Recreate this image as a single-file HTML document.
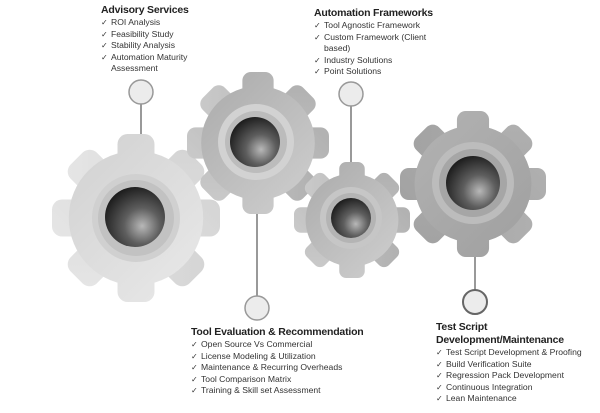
<!DOCTYPE html>
<html><head><style>
body{margin:0;width:600px;height:413px;background:#fff;overflow:hidden;position:relative;font-family:"Liberation Sans",sans-serif;}
.t{position:absolute;color:#222;}
.h{font-weight:bold;font-size:10.5px;line-height:13px;letter-spacing:-0.2px;}
ul{list-style:none;margin:0;padding:0;font-size:8.6px;line-height:11.5px;color:#333;}
li{position:relative;padding-left:10px;}
li:before{content:"✓";position:absolute;left:0;font-size:8px;}
</style></head><body>
<svg width="600" height="413" style="position:absolute;left:0;top:0">
<defs>
<radialGradient id="hub" cx="0.62" cy="0.65" r="0.75"><stop offset="0" stop-color="#b8b8b8"/><stop offset="0.4" stop-color="#5e5e5e"/><stop offset="1" stop-color="#111"/></radialGradient>
<linearGradient id="g1" gradientUnits="userSpaceOnUse" x1="-1" y1="-1" x2="1" y2="1"><stop offset="0" stop-color="#cfcfcf"/><stop offset="1" stop-color="#ebebeb"/></linearGradient>
<linearGradient id="g2" gradientUnits="userSpaceOnUse" x1="-1" y1="-1" x2="1" y2="1"><stop offset="0" stop-color="#a8a8a8"/><stop offset="1" stop-color="#d2d2d2"/></linearGradient>
<linearGradient id="g4" gradientUnits="userSpaceOnUse" x1="-1" y1="-1" x2="1" y2="1"><stop offset="0" stop-color="#b4b4b4"/><stop offset="1" stop-color="#9e9e9e"/></linearGradient>
<g id="teeth">
<rect x="-0.22" y="-1" width="0.44" height="2" rx="0.12"/>
<rect x="-0.22" y="-1" width="0.44" height="2" rx="0.12" transform="rotate(45)"/>
<rect x="-0.22" y="-1" width="0.44" height="2" rx="0.12" transform="rotate(90)"/>
<rect x="-0.22" y="-1" width="0.44" height="2" rx="0.12" transform="rotate(135)"/>
<circle r="0.8"/>
</g>
</defs>
<g stroke="#999" stroke-width="2" fill="#ececec">
<line x1="141" y1="104" x2="141" y2="140"/>
<line x1="257" y1="210" x2="257" y2="296"/>
<line x1="351" y1="106" x2="351" y2="170"/>
<line x1="475" y1="255" x2="475" y2="290"/>
</g>
<g transform="translate(136,218) scale(84)" fill="url(#g1)"><use href="#teeth"/></g>
<circle cx="136" cy="218" r="44" fill="#d0d0d0"/><circle cx="136" cy="218" r="38" fill="#c2c2c2"/>
<circle cx="135" cy="217" r="30" fill="url(#hub)"/>
<g transform="translate(258,143) scale(71)" fill="url(#g2)"><use href="#teeth"/></g>
<circle cx="256" cy="142" r="38" fill="#d2d2d2"/><circle cx="256" cy="142" r="31" fill="#bcbcbc"/>
<circle cx="255" cy="142" r="25" fill="url(#hub)"/>
<g transform="translate(352,220) scale(58)" fill="url(#g2)"><use href="#teeth"/></g>
<circle cx="351" cy="218" r="31" fill="#c6c6c6"/><circle cx="351" cy="218" r="25" fill="#b4b4b4"/>
<circle cx="351" cy="218" r="20" fill="url(#hub)"/>
<g transform="translate(473,184) scale(73)" fill="url(#g4)"><use href="#teeth"/></g>
<circle cx="473" cy="183" r="41" fill="#bcbcbc"/><circle cx="473" cy="183" r="34" fill="#a6a6a6"/>
<circle cx="473" cy="183" r="27" fill="url(#hub)"/>
<g stroke="#999" stroke-width="1.5" fill="#ececec">
<circle cx="141" cy="92" r="12"/>
<circle cx="351" cy="94" r="12"/>
<circle cx="257" cy="308" r="12"/>
<circle cx="475" cy="302" r="12" stroke="#666" stroke-width="2"/>
</g>
</svg>
<div class="t" style="left:101px;top:4px"><div class="h">Advisory Services</div>
<ul><li>ROI Analysis</li><li>Feasibility Study</li><li>Stability Analysis</li><li>Automation Maturity<br>Assessment</li></ul></div>
<div class="t" style="left:314px;top:7px"><div class="h">Automation Frameworks</div>
<ul><li>Tool Agnostic Framework</li><li>Custom Framework (Client<br>based)</li><li>Industry Solutions</li><li>Point Solutions</li></ul></div>
<div class="t" style="left:191px;top:326px"><div class="h">Tool Evaluation &amp; Recommendation</div>
<ul><li>Open Source Vs Commercial</li><li>License Modeling &amp; Utilization</li><li>Maintenance &amp; Recurring Overheads</li><li>Tool Comparison Matrix</li><li>Training &amp; Skill set Assessment</li></ul></div>
<div class="t" style="left:436px;top:321px"><div class="h">Test Script<br>Development/Maintenance</div>
<ul><li>Test Script Development &amp; Proofing</li><li>Build Verification Suite</li><li>Regression Pack Development</li><li>Continuous Integration</li><li>Lean Maintenance</li></ul></div>
</body></html>
